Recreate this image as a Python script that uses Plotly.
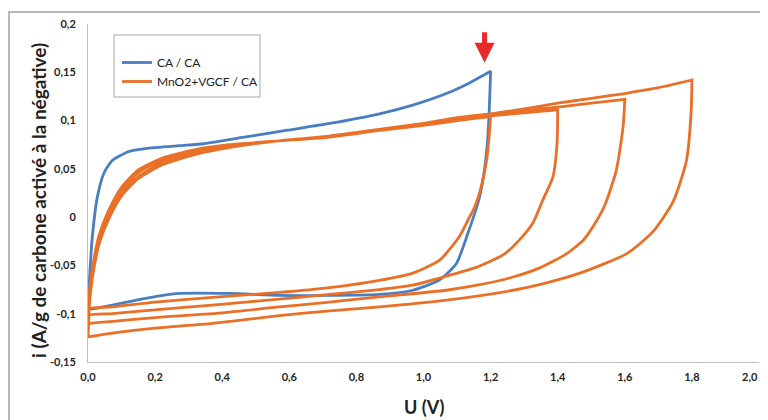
import plotly.graph_objects as go

# ---------------- data ----------------
# CA / CA  (blue), forward sweep then reverse sweep
u_ca_fwd = [0.0, 0.003, 0.013, 0.028, 0.048, 0.073, 0.122, 0.172, 0.272, 0.345, 0.47, 0.594, 0.72, 0.869, 0.968, 1.068, 1.137, 1.2]
i_ca_fwd = [-0.095, -0.073, -0.020, 0.021, 0.046, 0.059, 0.068, 0.071, 0.074, 0.076, 0.083, 0.090, 0.097, 0.107, 0.116, 0.128, 0.139, 0.151]
u_ca_rev = [1.2, 1.196, 1.19, 1.18, 1.165, 1.132, 1.098, 1.048, 0.968, 0.869, 0.72, 0.57, 0.421, 0.272, 0.172, 0.073, 0.018, 0.0]
i_ca_rev = [0.151, 0.111, 0.075, 0.045, 0.018, -0.017, -0.048, -0.065, -0.0757, -0.080, -0.081, -0.081, -0.079, -0.079, -0.084, -0.091, -0.0947, -0.095]

# MnO2+VGCF / CA (orange), four cycles with vertex 1.2, 1.4, 1.6, 1.8 V
u_fwd_12 = [0.0, 0.005, 0.013, 0.033, 0.063, 0.10, 0.15, 0.22, 0.32, 0.42, 0.57, 0.72, 0.85, 1.0, 1.1, 1.2]
i_fwd_12 = [-0.095, -0.074, -0.053, -0.019, 0.008, 0.031, 0.049, 0.061, 0.070, 0.075, 0.079, 0.083, 0.089, 0.095, 0.100, 0.104]
u_rev_12 = [1.2, 1.196, 1.188, 1.167, 1.152, 1.137, 1.107, 1.048, 0.968, 0.869, 0.72, 0.57, 0.371, 0.2, 0.073, 0.0]
i_rev_12 = [0.104, 0.085, 0.059, 0.025, 0.010, 0.000, -0.020, -0.0446, -0.058, -0.0655, -0.073, -0.078, -0.083, -0.088, -0.093, -0.095]

u_fwd_14 = [0.0, 0.005, 0.013, 0.033, 0.063, 0.10, 0.15, 0.22, 0.32, 0.42, 0.57, 0.72, 0.85, 1.0, 1.1, 1.2, 1.3, 1.4]
i_fwd_14 = [-0.102, -0.077, -0.056, -0.022, 0.005, 0.028, 0.046, 0.059, 0.068, 0.074, 0.079, 0.083, 0.089, 0.096, 0.101, 0.105, 0.108, 0.111]
u_rev_14 = [1.4, 1.398, 1.386, 1.356, 1.326, 1.29, 1.242, 1.157, 1.048, 0.968, 0.869, 0.72, 0.57, 0.371, 0.2, 0.073, 0.0]
i_rev_14 = [0.111, 0.076, 0.042, 0.018, -0.006, -0.022, -0.038, -0.052, -0.063, -0.0705, -0.075, -0.080, -0.085, -0.091, -0.096, -0.100, -0.102]

u_fwd_16 = [0.0, 0.005, 0.013, 0.033, 0.063, 0.10, 0.15, 0.22, 0.32, 0.42, 0.57, 0.72, 0.85, 1.0, 1.1, 1.2, 1.3, 1.4, 1.5, 1.6]
i_fwd_16 = [-0.111, -0.083, -0.060, -0.026, 0.001, 0.024, 0.042, 0.056, 0.066, 0.073, 0.079, 0.084, 0.090, 0.097, 0.102, 0.106, 0.110, 0.114, 0.118, 0.122]
u_rev_16 = [1.6, 1.595, 1.575, 1.54, 1.505, 1.476, 1.426, 1.35, 1.267, 1.168, 1.068, 0.869, 0.72, 0.57, 0.371, 0.2, 0.073, 0.0]
i_rev_16 = [0.122, 0.094, 0.049, 0.012, -0.010, -0.024, -0.038, -0.052, -0.062, -0.070, -0.0757, -0.0825, -0.088, -0.093, -0.100, -0.104, -0.108, -0.111]

u_fwd_18 = [0.0, 0.005, 0.013, 0.033, 0.063, 0.10, 0.15, 0.22, 0.32, 0.42, 0.57, 0.72, 0.85, 1.0, 1.1, 1.2, 1.3, 1.4, 1.5, 1.6, 1.7, 1.8]
i_fwd_18 = [-0.124, -0.087, -0.063, -0.028, -0.001, 0.022, 0.040, 0.054, 0.065, 0.072, 0.079, 0.084, 0.090, 0.097, 0.103, 0.107, 0.112, 0.118, 0.123, 0.128, 0.134, 0.142]
u_rev_18 = [1.8, 1.798, 1.784, 1.744, 1.684, 1.605, 1.466, 1.367, 1.267, 1.068, 0.869, 0.72, 0.57, 0.371, 0.2, 0.073, 0.0]
i_rev_18 = [0.142, 0.111, 0.059, 0.016, -0.015, -0.038, -0.058, -0.068, -0.0757, -0.086, -0.093, -0.097, -0.102, -0.110, -0.115, -0.120, -0.124]

x_tickvals = [0.0, 0.2, 0.4, 0.6, 0.8, 1.0, 1.2, 1.4, 1.6, 1.8, 2.0]
x_ticktext = ["0,0", "0,2", "0,4", "0,6", "0,8", "1,0", "1,2", "1,4", "1,6", "1,8", "2,0"]
y_tickvals = [-0.15, -0.1, -0.05, 0.0, 0.05, 0.1, 0.15, 0.2]
y_ticktext = ["-0,15", "-0,1", "-0,05", "0", "0,05", "0,1", "0,15", "0,2"]

series_names = ["CA / CA", "MnO2+VGCF / CA"]
x_title = "U (V)"
y_title = "i (A/g de carbone activé à la négative)"

# ---------------- figure ----------------
BLUE = "#4A7EC2"
ORANGE = "#EA6F27"
FONT = "Lato"
TICKFONT = dict(family=FONT, size=11, color="#262626", weight="bold")

u_blue = u_ca_fwd + u_ca_rev
i_blue = i_ca_fwd + i_ca_rev
u_or = u_fwd_12 + u_rev_12 + u_fwd_14 + u_rev_14 + u_fwd_16 + u_rev_16 + u_fwd_18 + u_rev_18
i_or = i_fwd_12 + i_rev_12 + i_fwd_14 + i_rev_14 + i_fwd_16 + i_rev_16 + i_fwd_18 + i_rev_18

fig = go.Figure()
fig.add_trace(go.Scatter(x=u_blue, y=i_blue, mode="lines", name=series_names[0],
                         line=dict(color=BLUE, width=2.8, shape="spline", smoothing=0.6)))
fig.add_trace(go.Scatter(x=u_or, y=i_or, mode="lines", name=series_names[1],
                         line=dict(color=ORANGE, width=2.8, shape="spline", smoothing=0.6)))

# the page body adds an 8 px offset; positions below are given in the
# reference picture's pixels and converted
OFF = 8
W, H = 752, 412
L, R, T, B = 80, 1, 16, 58
pw, ph = W - L - R, H - T - B

def pxx(px):
    return (px - OFF - L) / pw

def pyy(py):
    return 1 - (py - OFF - T) / ph

# the last x tick label sits at the very edge: draw it as right-anchored text
shown_x_ticktext = x_ticktext[:-1] + [""]

fig.update_layout(
    width=W, height=H,
    margin=dict(l=L, r=R, t=T, b=B, pad=0),
    paper_bgcolor="white", plot_bgcolor="white",
    font=dict(family=FONT, color="#222222"),
    showlegend=True,
    legend=dict(x=pxx(117), y=pyy(48), xanchor="left", yanchor="top",
                bgcolor="rgba(0,0,0,0)", borderwidth=0,
                font=dict(family=FONT, size=12, color="#222222"),
                tracegroupgap=0, itemwidth=30),
    xaxis=dict(range=[0, 2.0], tickvals=x_tickvals, ticktext=shown_x_ticktext, automargin=False,
               showgrid=False, zeroline=False, showline=True, linecolor="#BFBFBF", linewidth=1,
               ticks="", ticklabelstandoff=5, tickfont=TICKFONT),
    yaxis=dict(range=[-0.15, 0.2], tickvals=y_tickvals, ticktext=y_ticktext, automargin=False,
               showgrid=False, zeroline=False, showline=True, linecolor="#BFBFBF", linewidth=1,
               ticks="", ticklabelstandoff=9, tickfont=TICKFONT),
    shapes=[
        # outer chart frame (partially visible)
        dict(type="rect", xref="paper", yref="paper",
             x0=pxx(9), x1=pxx(800), y0=pyy(460), y1=pyy(12),
             line=dict(color="#A0A0A0", width=1.5), fillcolor="rgba(0,0,0,0)", layer="below"),
        # legend box
        dict(type="rect", xref="paper", yref="paper",
             x0=pxx(114), x1=pxx(260), y0=pyy(97), y1=pyy(35),
             line=dict(color="#A6A6A6", width=1), fillcolor="rgba(0,0,0,0)", layer="above"),
    ],
    annotations=[
        dict(x=1.182, y=0.160, xref="x", yref="y", text="", showarrow=True,
             ax=0, ay=-32, arrowcolor="#E82A2A", arrowwidth=5, arrowhead=2, arrowsize=0.8,
             standoff=0),
        dict(x=pxx(760), y=pyy(377), xref="paper", yref="paper", text=x_ticktext[-1],
             showarrow=False, xanchor="right", yanchor="middle", font=TICKFONT),
        dict(x=pxx(424), y=pyy(407), xref="paper", yref="paper", text=x_title, showarrow=False,
             xanchor="center", yanchor="middle",
             font=dict(family=FONT, size=18, color="#222222", weight="bold")),
        dict(x=pxx(38), y=pyy(201), xref="paper", yref="paper", text=y_title, showarrow=False,
             textangle=-90, xanchor="center", yanchor="middle",
             font=dict(family=FONT, size=19, color="#222222", weight="bold")),
    ],
)

fig.write_html("out.html")
